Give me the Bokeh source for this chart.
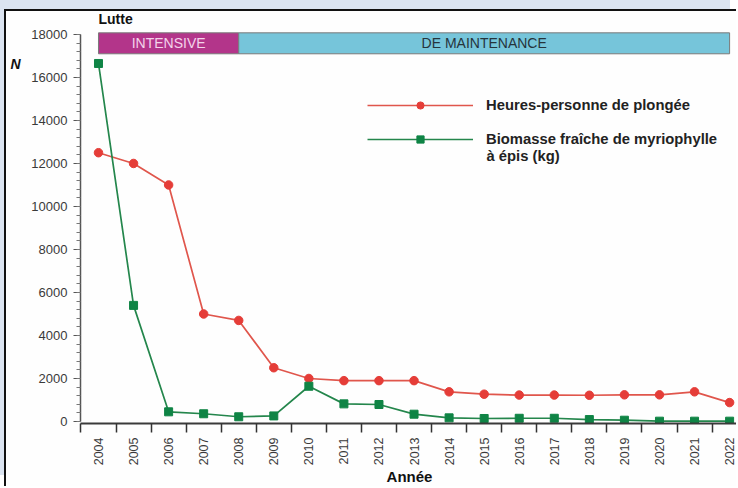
import math
from bokeh.plotting import figure
from bokeh.models import FixedTicker, Legend, LegendItem, Label, LinearAxis
from bokeh.embed import file_html
from bokeh.resources import INLINE

years = list(range(2004, 2023))
heures = [12500, 12000, 11000, 5000, 4700, 2500, 2000, 1900, 1900, 1900,
          1380, 1270, 1230, 1230, 1220, 1240, 1240, 1380, 880]
biomasse = [16650, 5400, 450, 360, 220, 260, 1640, 820, 790, 340,
            170, 140, 150, 150, 90, 60, 15, 15, 15]
phase_names = ["INTENSIVE", "DE MAINTENANCE"]
phase_start = [2004, 2008]
phase_end = [2008, 2022]
y_ticks = list(range(0, 18001, 2000))

FONT = "Liberation Sans"
X0, X1 = 2003.487, 2022.254

p = figure(width=732, height=477, x_range=(X0, X1), y_range=(-93, 19067),
           output_backend="svg", toolbar_location=None,
           min_border_left=74, min_border_right=0, min_border_top=0, min_border_bottom=64)
p.styles = {"margin-left": "4px", "margin-top": "9px",
            "border-left": "2px solid #111", "border-top": "2px solid #111",
            "box-shadow": "-6px -11px 0 0 #dbe4f1"}
p.grid.visible = False
p.outline_line_color = None
p.background_fill_color = "#fefefe"
p.border_fill_color = "#fefefe"

# phase bar
bar_bottom, bar_top = 17100, 18075
p.quad(left=phase_start[0], right=phase_end[0], bottom=bar_bottom, top=bar_top,
       fill_color="#b3358a", line_color="#7a7a7a", line_width=1)
p.quad(left=phase_start[1], right=phase_end[1], bottom=bar_bottom, top=bar_top,
       fill_color="#76c5da", line_color="#7a7a7a", line_width=1)
mid = (bar_bottom + bar_top) / 2
p.add_layout(Label(x=(phase_start[0] + phase_end[0]) / 2, y=mid, text=phase_names[0],
                   text_align="center", text_baseline="middle", text_font=FONT,
                   text_font_size="14px", text_color="#f3d3ea"))
p.add_layout(Label(x=(phase_start[1] + phase_end[1]) / 2, y=mid, text=phase_names[1],
                   text_align="center", text_baseline="middle", text_font=FONT,
                   text_font_size="14px", text_color="#26343c"))
p.add_layout(Label(x=2004, y=18720, text="Lutte", text_align="left", text_baseline="middle",
                   text_font=FONT, text_font_size="14px", text_font_style="bold",
                   text_color="#111"))

# series
l1 = p.line(years, heures, line_color="#e0564c", line_width=1.7)
s1 = p.scatter(years, heures, marker="circle", size=8.5, fill_color="#e53d38",
               line_color="#e53d38")
l2 = p.line(years, biomasse, line_color="#24864c", line_width=1.7)
s2 = p.scatter(years, biomasse, marker="square", size=8, fill_color="#0f8445",
               line_color="#0f8445")

legend = Legend(items=[LegendItem(label="Heures-personne de plongée", renderers=[l1, s1]),
                       LegendItem(label="Biomasse fraîche de myriophylle",
                                  renderers=[l2, s2])],
                location=(287, 275), glyph_width=106, glyph_height=18, label_height=18,
                label_standoff=13, spacing=16, padding=0, margin=0,
                border_line_color=None, background_fill_alpha=0,
                label_text_font=FONT, label_text_font_style="bold",
                label_text_font_size="14.8px", label_text_color="#222")
p.add_layout(legend)
p.add_layout(Label(x=2004 + 388 / 35.06, y=12350, text="à épis (kg)",
                   text_align="left", text_baseline="middle", text_font=FONT,
                   text_font_size="14.8px", text_font_style="bold", text_color="#222"))

# x axis
xa = p.xaxis[0]
xa.ticker = FixedTicker(ticks=years, minor_ticks=[y - 0.5 for y in years] + [years[-1] + 0.5])
xa.major_tick_out = 0
xa.major_tick_in = 0
xa.minor_tick_out = 9
xa.minor_tick_in = 0
xa.minor_tick_line_color = "#333"
xa.minor_tick_line_width = 1.5
xa.axis_line_color = "#3a3a3a"
xa.axis_line_width = 2
xa.major_label_orientation = math.pi / 2
xa.major_label_standoff = 5
xa.major_label_text_font = FONT
xa.major_label_text_font_size = "12.5px"
xa.major_label_text_color = "#3a3a3a"
xa.axis_label = "Année"
xa.axis_label_text_font = FONT
xa.axis_label_text_font_size = "15px"
xa.axis_label_text_font_style = "bold"
xa.axis_label_text_color = "#111"
xa.axis_label_standoff = 0

# y axis
ya = p.yaxis[0]
ya.bounds = (0, 18000)
ya.ticker = FixedTicker(ticks=y_ticks, minor_ticks=list(range(0, 18001, 400)))
ya.major_tick_out = 7
ya.major_tick_in = 0
ya.minor_tick_out = 4
ya.minor_tick_in = 0
ya.major_tick_line_color = "#555"
ya.minor_tick_line_color = "#777"
ya.axis_line_color = "#555"
ya.axis_line_width = 1.5
ya.major_label_standoff = 6
ya.major_label_text_font = FONT
ya.major_label_text_font_size = "13px"
ya.major_label_text_color = "#3a3a3a"

# "N" title at the top-left, carried by a bare outer axis (blank lines push it up)
na = LinearAxis(ticker=FixedTicker(ticks=[]),
                axis_line_color=None, major_tick_line_color=None, minor_tick_line_color=None,
                major_label_text_font_size="0px",
                axis_label="N" + "\n " * 16, axis_label_orientation="horizontal",
                axis_label_standoff=8,
                axis_label_text_font=FONT, axis_label_text_font_size="14px",
                axis_label_text_font_style="bold italic", axis_label_text_color="#111")
p.add_layout(na, "left")

open("out.html", "w").write(file_html(p, INLINE))
